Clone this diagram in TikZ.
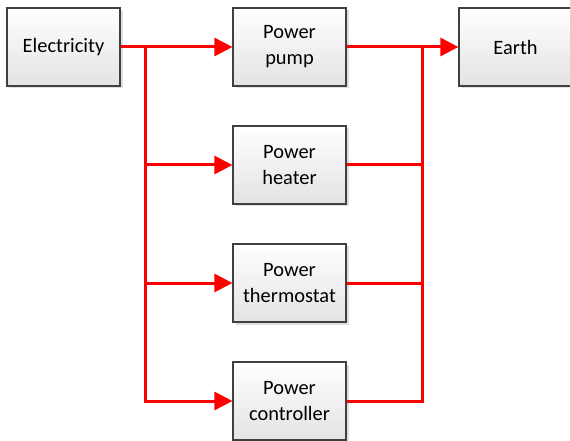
\documentclass[tikz,border=0pt]{standalone}
\usepackage{fontspec}
\setmainfont{Carlito}
\usetikzlibrary{arrows.meta,shadows}

\tikzset{
  unit/.style={draw=black!75, line width=1.2bp, top color=white, bottom color=black!11,
    drop shadow={shadow xshift=2.5bp, shadow yshift=-2.5bp, opacity=.25},
    minimum width=113bp, minimum height=78bp, align=center,
    font=\fontsize{20.5}{26}\selectfont},
  wire/.style={red, line width=3bp},
  feed/.style={wire, -{Triangle[length=18bp,width=18bp]}}
}

\begin{document}
\begin{tikzpicture}[x=1bp, y=-1bp]
  \clip (0,0) rectangle (570,441);
  \node[unit] (elec) at (63.5,47) {Electricity};
  \node[unit] (pump) at (289.5,47) {Power\\pump};
  \node[unit] (earth) at (515.5,47) {Earth};
  \node[unit] (heater) at (289.5,165) {Power\\heater};
  \node[unit] (thermo) at (289.5,283) {Power\\thermostat};
  \node[unit] (ctrl) at (289.5,401) {Power\\controller};
  \coordinate (lbus) at (145,47);
  \coordinate (rbus) at (422,47);
  % supply side
  \draw[feed] (elec) -- (pump);
  \draw[feed] (lbus) |- (ctrl);
  \draw[feed] (lbus |- heater) -- (heater);
  \draw[feed] (lbus |- thermo) -- (thermo);
  % return side
  \draw[feed] (pump) -- (earth);
  \draw[wire] (ctrl) -| (rbus);
  \draw[wire] (heater) -- (heater -| rbus);
  \draw[wire] (thermo) -- (thermo -| rbus);
\end{tikzpicture}
\end{document}
